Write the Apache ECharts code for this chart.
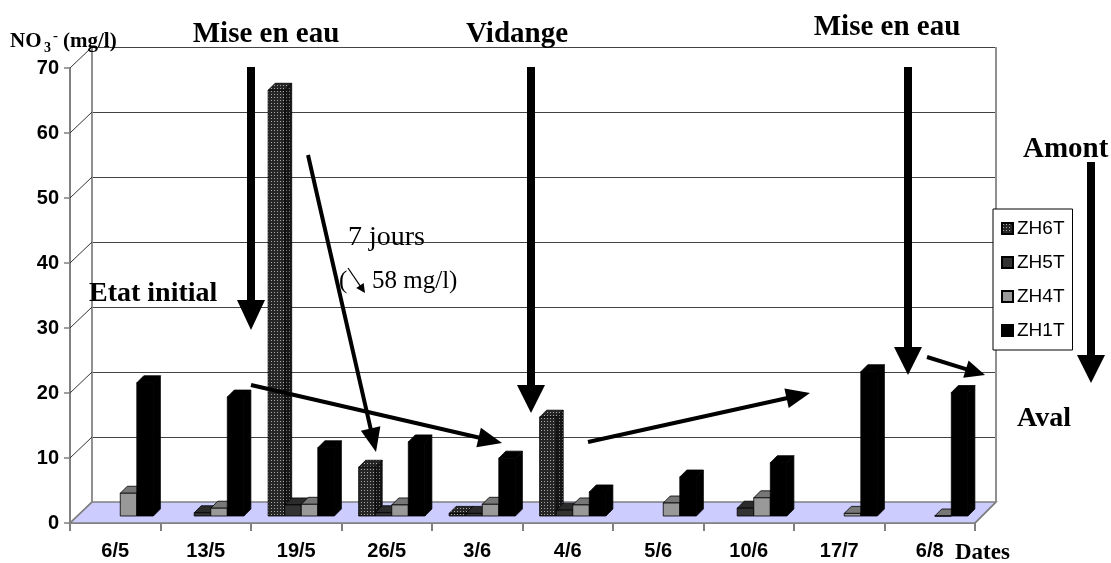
<!DOCTYPE html>
<html><head><meta charset="utf-8">
<script src="https://cdn.jsdelivr.net/npm/echarts@6/dist/echarts.min.js"></script>
<style>html,body{margin:0;padding:0;background:#fff}#c{width:1111px;height:563px}</style>
</head><body><div id="c"></div>
<script>
var categories = ['6/5','13/5','19/5','26/5','3/6','4/6','5/6','10/6','17/7','6/8'];
var seriesNames = ['ZH6T','ZH5T','ZH4T','ZH1T'];
var zh6t = [null, null, 65.5, 7.5, 0.4, 15.2, null, null, null, null];
var zh5t = [null, 0.5, 1.7, 0.5, 0.4, 0.9, null, 1.2, null, null];
var zh4t = [3.5, 1.2, 1.8, 1.7, 1.8, 1.7, 2.0, 2.8, 0.4, 0];
var zh1t = [20.5, 18.3, 10.5, 11.4, 8.9, 3.7, 6.0, 8.2, 22.2, 19.0];
var yTicks = [0, 10, 20, 30, 40, 50, 60, 70];

var chart = echarts.init(document.getElementById('c'));

function makePattern(bg, dot){
  var cv = document.createElement('canvas'); cv.width = 3; cv.height = 3;
  var cx = cv.getContext('2d');
  cx.fillStyle = bg; cx.fillRect(0,0,3,3);
  cx.fillStyle = dot; cx.fillRect(1,1,1,1);
  return {image: cv, repeat: 'repeat'};
}
var pat = makePattern('#262626', '#a8a8a8');
var patSide = makePattern('#161616', '#7a7a7a');

var faceStyles = [
  {front: pat, top: pat, side: patSide},
  {front: '#333333', top: '#2b2b2b', side: '#222222'},
  {front: '#999999', top: '#777777', side: '#6a6a6a'},
  {front: '#000000', top: '#000000', side: '#000000'}
];
var seriesData = [zh6t, zh5t, zh4t, zh1t];
var D = 7;

function makeRender(si){
  return function(params, api){
    var v = api.value(1);
    if (v === null || v === undefined || isNaN(v)) return;
    var ci = api.value(0);
    var base = api.coord([ci, 0]);
    var top = api.coord([ci, v]);
    var band = api.size([1, 0])[0];
    var w = band * 0.183;
    var x0 = base[0] + (si - 2) * w;
    var by = base[1], ty = top[1];
    var fs = faceStyles[si];
    var st = {stroke: '#000', lineWidth: 0.8};
    return {type: 'group', children: [
      {type: 'polygon', shape: {points: [[x0+w, ty],[x0+w+D, ty-D],[x0+w+D, by-D],[x0+w, by]]},
        style: Object.assign({fill: fs.side}, st)},
      {type: 'polygon', shape: {points: [[x0, ty],[x0+D, ty-D],[x0+w+D, ty-D],[x0+w, ty]]},
        style: Object.assign({fill: fs.top}, st)},
      {type: 'rect', shape: {x: x0, y: ty, width: w, height: by - ty},
        style: Object.assign({fill: fs.front}, st)}
    ]};
  };
}

var series = seriesNames.map(function(n, si){
  return {
    type: 'custom', name: n, xAxisIndex: 2, yAxisIndex: 2, z: 5,
    renderItem: makeRender(si),
    itemStyle: {color: faceStyles[si].front, borderColor: '#000', borderWidth: 1},
    encode: {x: 0, y: 1},
    data: seriesData[si].map(function(v, i){ return [i, v]; })
  };
});

var option = {
  animation: false,
  backgroundColor: '#fff',
  grid: [
    {left: 92, right: 115, top: 47, bottom: 61},
    {left: 70, right: 136, top: 68, bottom: 40},
    {left: 75, right: 131, top: 61, bottom: 47}
  ],
  xAxis: [
    {gridIndex: 0, type: 'category', data: categories, show: false},
    {gridIndex: 1, type: 'category', data: categories,
      axisLine: {lineStyle: {color: '#808080', width: 2}},
      axisTick: {show: true, length: 8, lineStyle: {color: '#808080', width: 2}},
      axisLabel: {color: '#000', fontFamily: 'Liberation Sans, Arial', fontWeight: 'bold', fontSize: 20, margin: 18}},
    {gridIndex: 2, type: 'category', data: categories, show: false}
  ],
  yAxis: [
    {gridIndex: 0, type: 'value', min: 0, max: 70, interval: 10,
      axisLine: {show: true, lineStyle: {color: '#909090', width: 2}},
      axisTick: {show: false}, axisLabel: {show: false},
      splitLine: {show: true, lineStyle: {color: '#444', width: 1}}},
    {gridIndex: 1, type: 'value', min: 0, max: 70, interval: 10,
      axisLine: {show: true, lineStyle: {color: '#808080', width: 2}},
      axisTick: {show: true, length: 6, lineStyle: {color: '#808080', width: 1.5}},
      axisLabel: {color: '#000', fontFamily: 'Liberation Sans, Arial', fontWeight: 'bold', fontSize: 20, margin: 11},
      splitLine: {show: false}},
    {gridIndex: 2, type: 'value', min: 0, max: 70, interval: 10, show: false, splitLine: {show: false}}
  ],
  legend: {
    orient: 'vertical', left: 993, top: 209,
    data: seriesNames,
    icon: 'rect', itemWidth: 11, itemHeight: 11, itemGap: 15,
    padding: [10, 8, 10, 8],
    borderColor: '#000', borderWidth: 1, backgroundColor: '#fff',
    textStyle: {fontFamily: 'Liberation Sans, Arial', fontSize: 19, color: '#000', padding: [0,0,0,-1]}
  },
  series: series
};
chart.setOption(option);

function px(axisIdx, v){ return chart.convertToPixel({yAxisIndex: axisIdx}, v); }
var fl = 70, fr = 975, bl = 92, br = 996;
var fy0 = px(1, 0), by0 = px(0, 0), by70 = px(0, 70);
var g = [];
g.push({type: 'polygon', z: 1, shape: {points: [[fl, fy0],[fr, fy0],[br, by0],[bl, by0]]},
  style: {fill: '#ccccff', stroke: '#808080', lineWidth: 1.5}});
g.push({type: 'line', z: 1, shape: {x1: br, y1: by70, x2: br, y2: by0}, style: {stroke: '#909090', lineWidth: 2}});
yTicks.forEach(function(t){
  g.push({type: 'line', z: 1, shape: {x1: fl, y1: px(1, t), x2: bl, y2: px(0, t)},
    style: {stroke: t === 0 ? '#808080' : '#333', lineWidth: t === 0 ? 1.5 : 1}});
});
g.push({type: 'line', z: 1, shape: {x1: fr, y1: fy0, x2: br, y2: by0}, style: {stroke: '#808080', lineWidth: 1.5}});

function arrow(x1, y1, x2, y2, w, hl, hw){
  var dx = x2 - x1, dy = y2 - y1, L = Math.sqrt(dx*dx + dy*dy);
  var ux = dx / L, uy = dy / L, nx = -uy, ny = ux;
  var bx = x2 - ux * hl, byy = y2 - uy * hl;
  g.push({type: 'line', z: 20, shape: {x1: x1, y1: y1, x2: bx + ux, y2: byy + uy},
    style: {stroke: '#000', lineWidth: w}});
  g.push({type: 'polygon', z: 20, shape: {points: [[x2, y2],[bx + nx*hw/2, byy + ny*hw/2],[bx - nx*hw/2, byy - ny*hw/2]]},
    style: {fill: '#000'}});
}
arrow(251, 67, 251, 330, 8, 30, 28);
arrow(531, 67, 531, 413, 8, 28, 28);
arrow(908, 67, 908, 375, 8, 28, 28);
arrow(1091, 162, 1091, 383, 8, 28, 28);
arrow(308, 155, 376, 452, 4, 24, 20);
arrow(251, 385, 502, 443, 4, 24, 20);
arrow(588, 442, 810, 393, 4, 24, 20);
arrow(927, 357, 985, 375, 4, 20, 18);
arrow(348, 268, 365, 293, 1.2, 9, 9);

function txt(s, x, y, font, align){
  g.push({type: 'text', z: 25, style: {text: s, x: x, y: y, font: font, fill: '#000',
    textAlign: align || 'left', textVerticalAlign: 'middle'}});
}
var TB = 'bold 29px "Liberation Serif", "Times New Roman", serif';
txt('Mise en eau', 266, 35, TB, 'center');
txt('Vidange', 517, 35, TB, 'center');
txt('Mise en eau', 887, 28, TB, 'center');
txt('Amont', 1023, 150, 'bold 29px "Liberation Serif", serif', 'left');
txt('Aval', 1017, 419, 'bold 28px "Liberation Serif", serif', 'left');
txt('Etat initial', 89, 294, 'bold 28px "Liberation Serif", serif', 'left');
txt('7 jours', 348, 238, '28px "Liberation Serif", serif', 'left');
txt('(', 339, 281, '25px "Liberation Serif", serif', 'left');
txt('58 mg/l)', 372, 281, '25px "Liberation Serif", serif', 'left');
txt('Dates', 955, 553, 'bold 23px "Liberation Serif", serif', 'left');
var NF = 'bold 21px "Liberation Serif", serif';
txt('NO', 10, 42, NF, 'left');
txt('3', 44, 48, 'bold 14px "Liberation Serif", serif', 'left');
txt('-', 53, 36, 'bold 15px "Liberation Serif", serif', 'left');
txt('(mg/l)', 63, 42, NF, 'left');

chart.setOption({graphic: {elements: g}});
</script>
</body></html>
